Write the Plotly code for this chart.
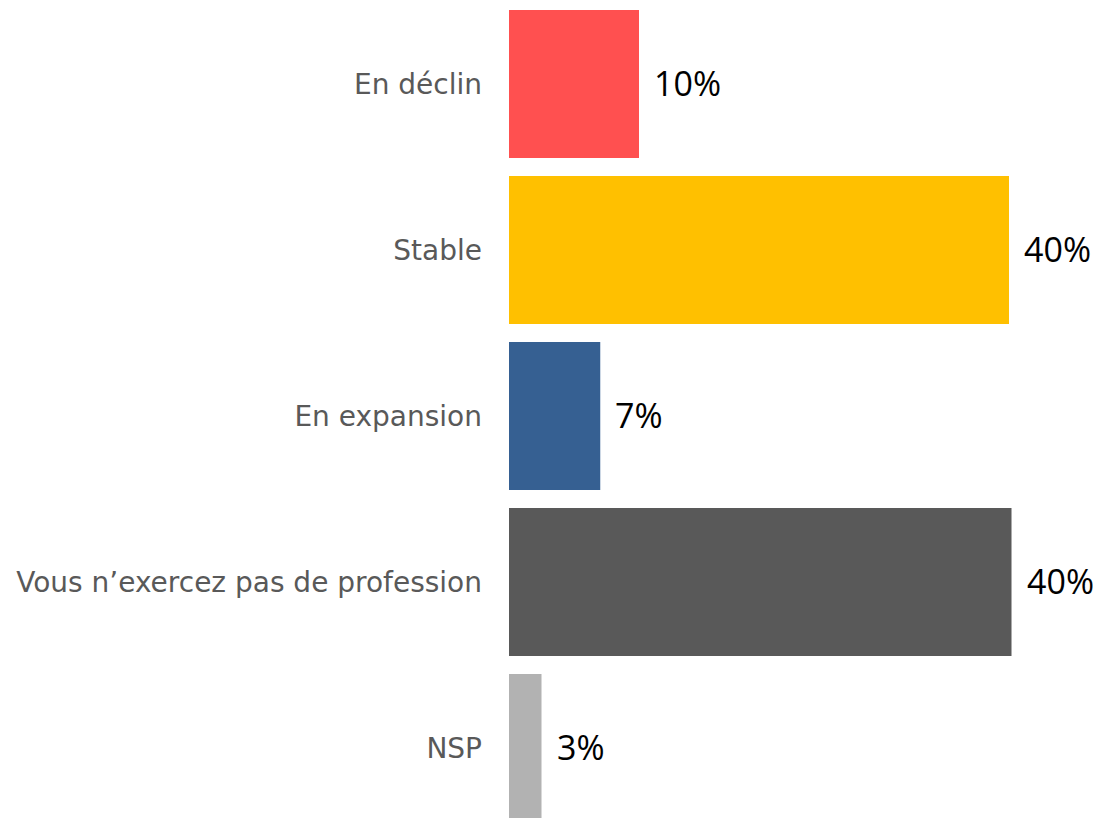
import plotly.graph_objects as go

categories = ["En déclin", "Stable", "En expansion", "Vous n’exercez pas de profession", "NSP"]
values = [10.4, 40.0, 7.3, 40.2, 2.6]
labels = ["10%", "40%", "7%", "40%", "3%"]
colors = ["#FF5050", "#FFC000", "#366092", "#595959", "#B2B2B2"]

fig = go.Figure()
fig.add_trace(go.Bar(
    x=values, y=categories, orientation="h",
    marker=dict(color=colors, line=dict(width=0)),
    hoverinfo="skip",
))

for c, v, t in zip(categories, values, labels):
    fig.add_annotation(
        x=v, y=c, text=t, showarrow=False, xanchor="left", yanchor="middle",
        xshift=13, yshift=1,
        font=dict(family="Open Sans, Noto Sans, sans-serif", size=34, color="#000000"),
    )

fig.update_layout(
    width=1101, height=818,
    margin=dict(l=501, r=0, t=0, b=0),
    paper_bgcolor="white", plot_bgcolor="white",
    bargap=0.108,
    showlegend=False,
    xaxis=dict(range=[0, 48.0], visible=False, fixedrange=True),
    yaxis=dict(
        categoryorder="array", categoryarray=categories,
        range=[4.47, -0.458],
        showgrid=False, zeroline=False, showline=False, ticks="",
        ticklabelstandoff=26,
        tickfont=dict(family="DejaVu Sans, sans-serif", size=28, color="#595959"),
    ),
)

fig.write_html("out.html")
